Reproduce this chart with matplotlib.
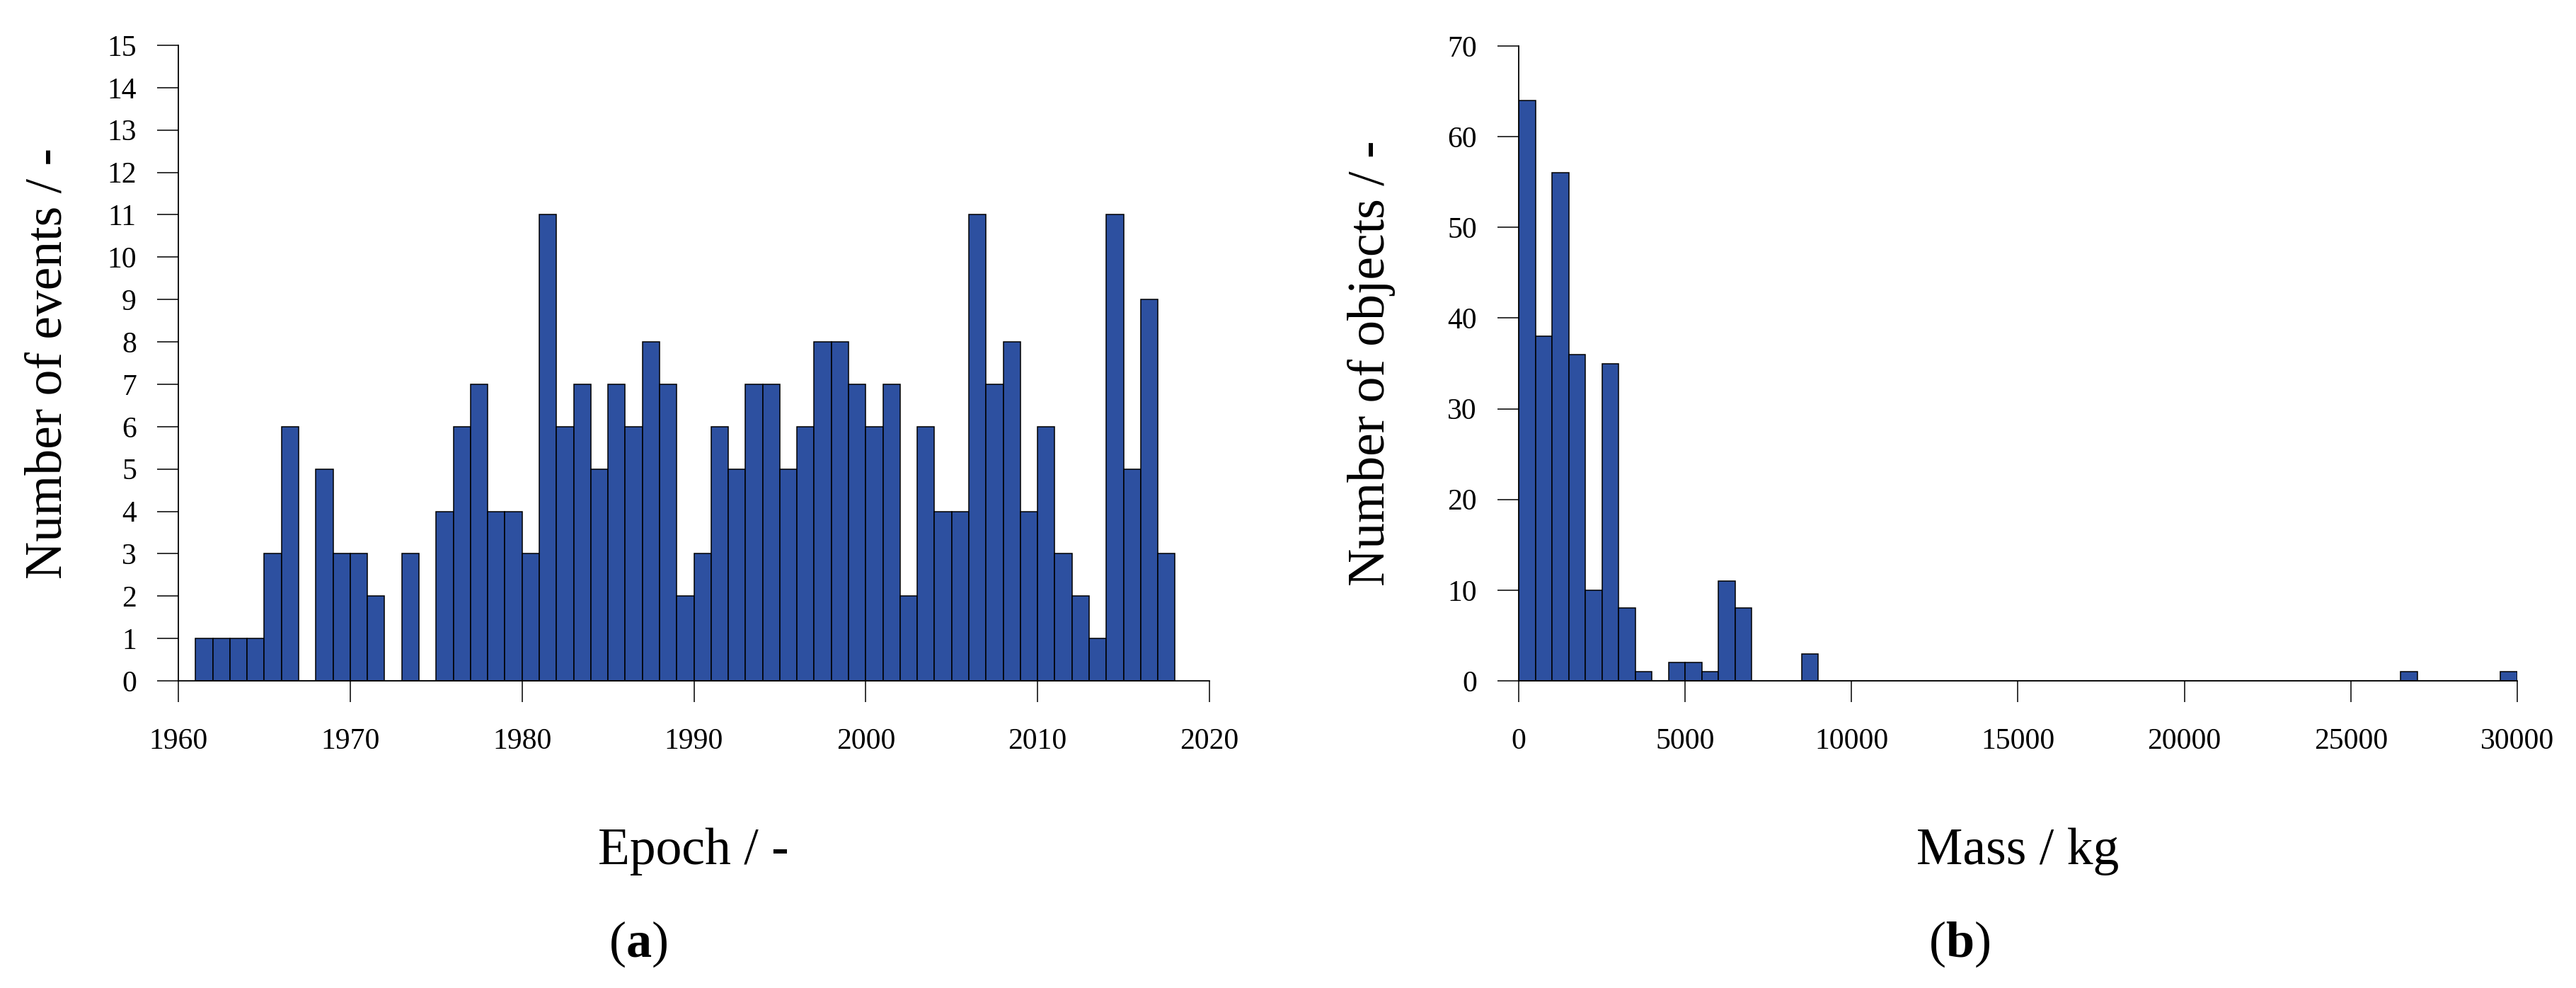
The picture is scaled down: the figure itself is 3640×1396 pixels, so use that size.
import matplotlib
matplotlib.use("Agg")
import matplotlib.pyplot as plt

# 事件年份直方图 (a)
epoch_start = [1961, 1962, 1963, 1964, 1965, 1966, 1967, 1968, 1969, 1970,
               1971, 1972, 1973, 1974, 1975, 1976, 1977, 1978, 1979, 1980,
               1981, 1982, 1983, 1984, 1985, 1986, 1987, 1988, 1989, 1990,
               1991, 1992, 1993, 1994, 1995, 1996, 1997, 1998, 1999, 2000,
               2001, 2002, 2003, 2004, 2005, 2006, 2007, 2008, 2009, 2010,
               2011, 2012, 2013, 2014, 2015, 2016, 2017]
epoch_counts = [1, 1, 1, 1, 3, 6, 0, 5, 3, 3,
                2, 0, 3, 0, 4, 6, 7, 4, 4, 3,
                11, 6, 7, 5, 7, 6, 8, 7, 2, 3,
                6, 5, 7, 7, 5, 6, 8, 8, 7, 6,
                7, 2, 6, 4, 4, 11, 7, 8, 4, 6,
                3, 2, 1, 11, 5, 9, 3]
epoch_ticks = [1960, 1970, 1980, 1990, 2000, 2010, 2020]
epoch_yticks = list(range(0, 16))

# 质量直方图 (b), 每个bin宽500 kg
mass_bin_width = 500
mass_counts = [64, 38, 56, 36, 10, 35, 8, 1, 0, 2,
               2, 1, 11, 8, 0, 0, 0, 3, 0, 0,
               0, 0, 0, 0, 0, 0, 0, 0, 0, 0,
               0, 0, 0, 0, 0, 0, 0, 0, 0, 0,
               0, 0, 0, 0, 0, 0, 0, 0, 0, 0,
               0, 0, 0, 1, 0, 0, 0, 0, 0, 1]
mass_ticks = [0, 5000, 10000, 15000, 20000, 25000, 30000]
mass_yticks = [0, 10, 20, 30, 40, 50, 60, 70]

bar_color = '#2d50a0'

plt.rcParams['font.family'] = ['Liberation Serif', 'DejaVu Serif']
plt.rcParams['mathtext.fontset'] = 'custom'
plt.rcParams['mathtext.rm'] = 'Liberation Serif'
plt.rcParams['mathtext.bf'] = 'Liberation Serif:bold'

W, H = 3641, 1396
fig = plt.figure(figsize=(W / 100, H / 100), dpi=100)

ax1 = fig.add_axes([252 / W, (H - 962) / H, (1709 - 252) / W, (962 - 64) / H])
ax2 = fig.add_axes([2146 / W, (H - 962) / H, (3557 - 2146) / W, (962 - 65) / H])

mass_start = [i * mass_bin_width for i in range(len(mass_counts))]

ax1.bar(epoch_start, epoch_counts, width=1, align='edge',
        color=bar_color, edgecolor='black', linewidth=1.1)
ax2.bar(mass_start, mass_counts, width=mass_bin_width, align='edge',
        color=bar_color, edgecolor='black', linewidth=1.1)

ax1.set_xlim(1960, 2020)
ax1.set_ylim(0, 15)
ax1.set_xticks(epoch_ticks)
ax1.set_yticks(epoch_yticks)

ax2.set_xlim(0, 30000)
ax2.set_ylim(0, 70)
ax2.set_xticks(mass_ticks)
ax2.set_yticks(mass_yticks)

for ax in (ax1, ax2):
    for s in ('top', 'right'):
        ax.spines[s].set_visible(False)
    for s in ('left', 'bottom'):
        ax.spines[s].set_linewidth(1.3)
    ax.tick_params(axis='both', direction='out', length=21.6, width=1.1,
                   labelsize=30)
    ax.tick_params(axis='x', pad=26)
    ax.tick_params(axis='y', pad=21)

# 轴标签
fig.text(69 / W, 1 - 513 / H, 'Number of events / -', rotation=90,
         ha='center', va='center', fontsize=53)
fig.text(1938 / W, 1 - 513 / H, 'Number of objects / -', rotation=90,
         ha='center', va='center', fontsize=53)
fig.text(980 / W, 1 - 1221 / H, 'Epoch / -', ha='center', va='baseline',
         fontsize=53)
fig.text(2851 / W, 1 - 1221 / H, 'Mass / kg', ha='center', va='baseline',
         fontsize=53)

# 子图编号
fig.text(902 / W, 1 - 1352 / H, r'($\mathbf{a}$)', ha='center',
         va='baseline', fontsize=52)
fig.text(2769 / W, 1 - 1352 / H, r'($\mathbf{b}$)', ha='center',
         va='baseline', fontsize=52)

fig.savefig('out.png', dpi=100)
